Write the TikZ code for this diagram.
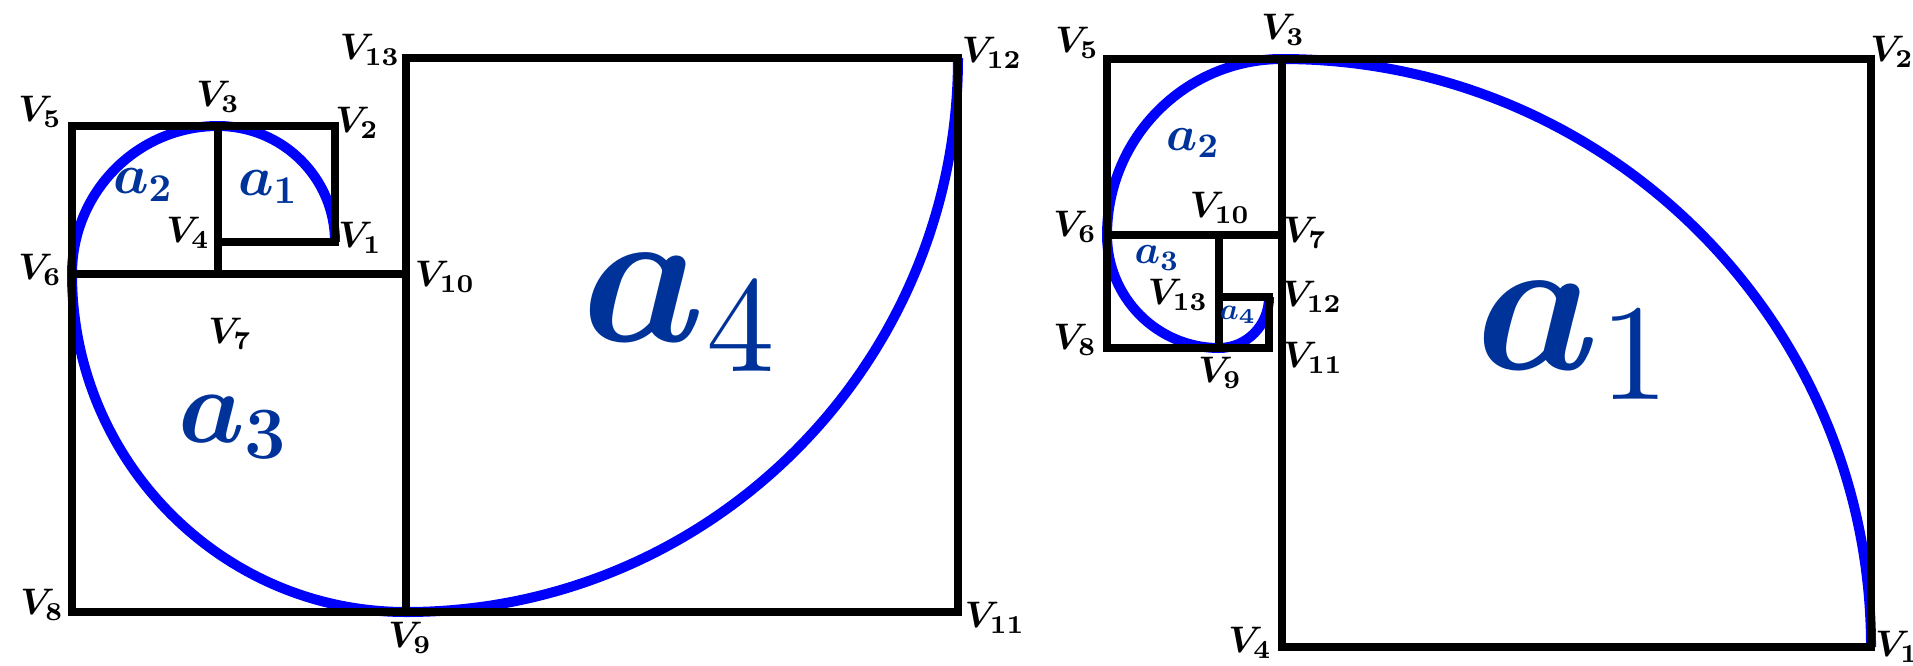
\RequirePackage{fix-cm}
\documentclass[tikz,border=0pt]{standalone}
\usepackage{bm}
\usepackage{graphicx}
\definecolor{arcblue}{RGB}{0,0,255}
\definecolor{lblblue}{RGB}{0,51,153}
\newcommand{\bigsub}[1]{\hbox{\fontsize{10}{12}\selectfont\scalebox{3.9}{$#1$}}}
\tikzset{
  frame/.style={line width=0.85mm, black, line cap=rect},
  spiral/.style={line width=1.0mm, arcblue},
  vlab/.style={inner sep=0pt, font=\fontsize{10.5}{12}\selectfont\boldmath},
  alab/.style={inner sep=0pt, text=lblblue},
}
\begin{document}
\begin{tikzpicture}[x=0.1mm,y=0.1mm]
\useasboundingbox (0,0) rectangle (1913,665);
% ---------- left figure points ----------
\coordinate (L1) at (335,423);
\coordinate (L2) at (335,539);
\coordinate (L3) at (218,539);
\coordinate (L4) at (218,423);
\coordinate (L5) at (72,539);
\coordinate (L6) at (72,391);
\coordinate (L7) at (218,391);
\coordinate (L8) at (72,53);
\coordinate (L9) at (406,53);
\coordinate (L10) at (406,391);
\coordinate (L11) at (958,53);
\coordinate (L12) at (958,607);
\coordinate (L13) at (406,607);
% ---------- right figure points ----------
\coordinate (R1) at (1871,18);
\coordinate (R2) at (1871,606);
\coordinate (R3) at (1282,606);
\coordinate (R4) at (1282,18);
\coordinate (R5) at (1107,606);
\coordinate (R6) at (1107,430);
\coordinate (R7) at (1282,430);
\coordinate (R8) at (1107,317);
\coordinate (R9) at (1219,317);
\coordinate (R10) at (1219,430);
\coordinate (R13) at (1219,368);
\coordinate (RP) at (1269,368);
\coordinate (RQ) at (1269,317);
% ---------- spirals ----------
\draw[spiral] (L1)
  arc[start angle=0,end angle=90,x radius=11.7mm,y radius=11.6mm]
  arc[start angle=90,end angle=180,x radius=14.6mm,y radius=14.8mm]
  arc[start angle=180,end angle=270,x radius=33.4mm,y radius=33.8mm]
  arc[start angle=270,end angle=360,x radius=55.2mm,y radius=55.4mm];
\draw[spiral] (R1)
  arc[start angle=0,end angle=90,x radius=58.9mm,y radius=58.8mm]
  arc[start angle=90,end angle=180,x radius=17.5mm,y radius=17.6mm]
  arc[start angle=180,end angle=270,x radius=11.2mm,y radius=11.3mm]
  arc[start angle=270,end angle=360,x radius=5.0mm,y radius=5.1mm];
% ---------- frames ----------
\draw[frame] (L8) -- (L11) -- (L12) -- (L13) -- (L9);
\draw[frame] (L6) -- (L10);
\draw[frame] (L8) -- (L5) -- (L2) -- (L1) -- (L4);
\draw[frame] (L3) -- (L7);
\draw[frame] (R5) -- (R2) -- (R1) -- (R4) -- (R3);
\draw[frame] (R5) -- (R8) -- (RQ) -- (RP) -- (R13);
\draw[frame] (R6) -- (R7);
\draw[frame] (R10) -- (R9);
% ---------- left labels ----------
\node[vlab] (tL5) at (40,553) {$V_5$};
\node[vlab] (tL3) at (218,568) {$V_3$};
\node[vlab] (tL2) at (357,542) {$V_2$};
\node[vlab] (tL1) at (360,427) {$V_1$};
\node[vlab] (tL4) at (188,432) {$V_4$};
\node[vlab] (tL6) at (40,395) {$V_6$};
\node[vlab] (tL10) at (445,388) {$V_{10}$};
\node[vlab] (tL13) at (370,615) {$V_{13}$};
\node[vlab] (tL7) at (230,331) {$V_7$};
\node[vlab] (tL8) at (42,60) {$V_8$};
\node[vlab] (tL9) at (410,27) {$V_9$};
\node[vlab] (tL11) at (995,47) {$V_{11}$};
\node[vlab] (tL12) at (992,612) {$V_{12}$};
\node[alab, font=\fontsize{16}{18}\selectfont\boldmath] (aL1) at (268,478) {$a_1$};
\node[alab, font=\fontsize{16}{18}\selectfont\boldmath] (aL2) at (143,480) {$a_2$};
\node[alab, font=\fontsize{30}{34}\selectfont\boldmath] (aL3) at (233,238) {$a_3$};
\node[alab, font=\fontsize{56}{60}\selectfont] (aL4) at (679,352) {$\bm{a}_{\bigsub{4}}$};
% ---------- right labels ----------
\node[vlab] (tR5) at (1077,622) {$V_5$};
\node[vlab] (tR3) at (1283,635) {$V_3$};
\node[vlab] (tR2) at (1892,613) {$V_2$};
\node[vlab] (tR1) at (1897,18) {$V_1$};
\node[vlab] (tR4) at (1250,22) {$V_4$};
\node[vlab] (tR6) at (1075,438) {$V_6$};
\node[vlab] (tR10) at (1220,457) {$V_{10}$};
\node[vlab] (tR7) at (1305,432) {$V_7$};
\node[vlab] (tR13) at (1178,370) {$V_{13}$};
\node[vlab] (tR12) at (1312,368) {$V_{12}$};
\node[vlab] (tR8) at (1075,325) {$V_8$};
\node[vlab] (tR9) at (1220,292) {$V_9$};
\node[vlab] (tR11) at (1313,307) {$V_{11}$};
\node[alab, font=\fontsize{14}{16}\selectfont\boldmath] (aR2) at (1193,522) {$a_2$};
\node[alab, font=\fontsize{11.5}{13}\selectfont\boldmath] (aR3) at (1157,407) {$a_3$};
\node[alab, font=\fontsize{8.5}{10}\selectfont\boldmath] (aR4) at (1238,350) {$a_4$};
\node[alab, font=\fontsize{56}{60}\selectfont] (aR1) at (1573,324) {$\bm{a}_{\bigsub{1}}$};
\end{tikzpicture}
\end{document}
